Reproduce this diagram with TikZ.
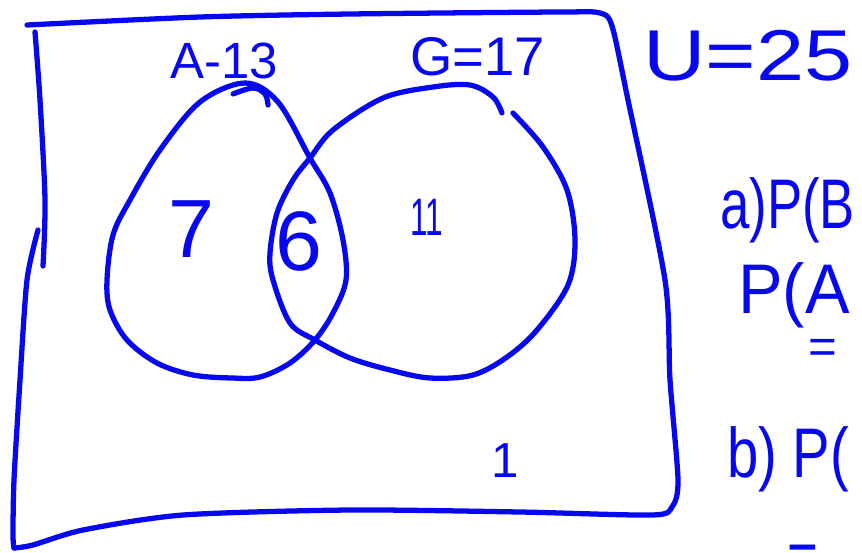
\documentclass[tikz,border=0pt]{standalone}
\usepackage{fontspec}
\setmainfont{Liberation Sans}
\usepackage{tikz}
\definecolor{inkBlue}{RGB}{8, 8, 238}
\newcommand{\handw}[2]{\scalebox{#1}[1]{#2}}

\begin{document}
\begin{tikzpicture}[
  x=0.02cm, y=-0.02cm,
  ink/.style={draw=inkBlue, line width=3pt, line cap=round, line join=round},
  hand/.style={text=inkBlue, inner sep=0pt, anchor=base west,
               font=\fontsize{#1}{#1}\selectfont},
  count/.style={hand=#1, anchor=base},
  flat/.style={text height=0.55em, text depth=0pt}
]
\useasboundingbox (0,0) rectangle (862,552);
\clip (0,0) rectangle (862,552);

% ---------- Universal set (box) ----------
\draw[ink] plot[smooth, tension=0.45] coordinates {
  (38,230) (27,280) (20,380) (14,480) (13,535) (14,548)};
\draw[ink] plot[smooth, tension=0.45] coordinates {
  (14,548) (33,545) (83,530) (183,515) (350,510) (520,512) (652,515)
  (672,507) (678,480) (670,380) (665,280) (628,100) (612,26) (600,13)
  (560,12) (350,14) (200,17) (27,25)};
\draw[ink] plot[smooth, tension=0.5] coordinates {
  (35,32) (40,100) (45,200) (43,266)};

% ---------- Set A ----------
\draw[ink] plot[smooth cycle, tension=0.55] coordinates {
  (245,83) (278,102) (310,158) (330,193) (343,240) (346,280) (333,313)
  (315,340) (290,363) (260,377) (232,378) (193,375) (157,363) (127,340)
  (110,310) (107,280) (113,235) (130,200) (160,150) (200,102)};
\draw[ink] plot[smooth, tension=0.6] coordinates {
  (233,94) (253,88) (265,94) (268,105)};

% ---------- Set G ----------
\draw[ink] plot[smooth, tension=0.55] coordinates {
  (513,113) (543,147) (567,190) (575,240) (568,285) (537,330) (507,357)
  (473,375) (430,378) (390,370) (350,358) (315,340) (290,323) (273,280)
  (270,253) (277,213) (293,180) (310,158) (333,130) (383,98) (433,87)
  (470,85) (493,97) (502,113)};

% ---------- Labels ----------
\node[hand=29] (labA) at (170,78) {A-13};
\node[hand=31] (labG) at (410,75) {G=17};
\node[hand=41] (labU) at (643,80) {\handw{1.2}{U=25}};

% ---------- Counts ----------
\node[count=47] (n7) at (191,257) {7};
\node[count=48] (n6) at (299,270) {6};
\node[count=30] (n11) at (427,235) {\handw{0.6}{11}};
\node[count=28] (n1) at (505,477) {1};

% ---------- Questions ----------
\node[hand=40] (qa1) at (720,228) {\handw{0.75}{a)P(B}};
\node[hand=40] (qa2) at (738,313) {\handw{0.95}{P(A}};
\node[hand=28, flat] (qa3) at (808,363) {=};
\node[hand=40] (qb1) at (727,477) {\handw{0.8}{b) P(}};
\node[hand=40, flat] (qb2) at (787,579) {\handw{0.75}{=}};

\end{tikzpicture}
\end{document}
